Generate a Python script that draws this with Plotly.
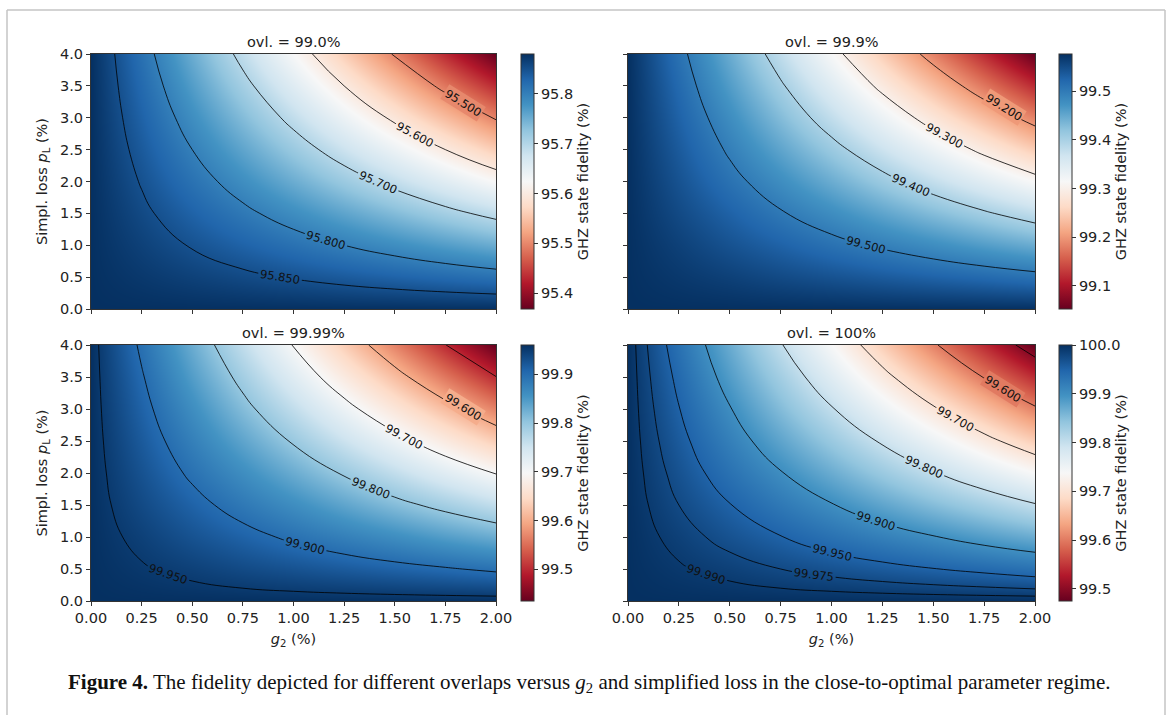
import plotly.graph_objects as go

W, H = 1167, 715

# ---- data ----
g2 = [0.0, 0.25, 0.5, 0.75, 1.0, 1.25, 1.5, 1.75, 2.0]
pL = [0.0, 0.5, 1.0, 1.5, 2.0, 2.5, 3.0, 3.5, 4.0]

# rows: pL, columns: g2 ; GHZ state fidelity (%)
fid_ovl_990 = [
    [95.880, 95.880, 95.880, 95.880, 95.880, 95.880, 95.880, 95.880, 95.880],
    [95.880, 95.872, 95.864, 95.856, 95.848, 95.840, 95.832, 95.824, 95.816],
    [95.880, 95.864, 95.848, 95.832, 95.816, 95.800, 95.784, 95.768, 95.752],
    [95.880, 95.856, 95.832, 95.808, 95.784, 95.760, 95.736, 95.712, 95.688],
    [95.880, 95.848, 95.816, 95.784, 95.752, 95.720, 95.688, 95.656, 95.624],
    [95.880, 95.840, 95.800, 95.760, 95.720, 95.680, 95.640, 95.600, 95.560],
    [95.880, 95.832, 95.784, 95.736, 95.688, 95.640, 95.592, 95.544, 95.496],
    [95.880, 95.824, 95.768, 95.712, 95.656, 95.600, 95.544, 95.488, 95.432],
    [95.880, 95.816, 95.752, 95.688, 95.624, 95.560, 95.496, 95.432, 95.368],
]
fid_ovl_999 = [
    [99.577, 99.577, 99.577, 99.577, 99.577, 99.577, 99.577, 99.577, 99.577],
    [99.577, 99.569, 99.561, 99.552, 99.544, 99.536, 99.528, 99.520, 99.511],
    [99.577, 99.561, 99.544, 99.528, 99.511, 99.495, 99.479, 99.462, 99.446],
    [99.577, 99.552, 99.528, 99.503, 99.479, 99.454, 99.429, 99.405, 99.380],
    [99.577, 99.544, 99.511, 99.479, 99.446, 99.413, 99.380, 99.347, 99.315],
    [99.577, 99.536, 99.495, 99.454, 99.413, 99.372, 99.331, 99.290, 99.249],
    [99.577, 99.528, 99.479, 99.429, 99.380, 99.331, 99.282, 99.233, 99.183],
    [99.577, 99.520, 99.462, 99.405, 99.347, 99.290, 99.233, 99.175, 99.118],
    [99.577, 99.511, 99.446, 99.380, 99.315, 99.249, 99.183, 99.118, 99.052],
]
fid_ovl_9999 = [
    [99.960, 99.960, 99.960, 99.960, 99.960, 99.960, 99.960, 99.960, 99.960],
    [99.960, 99.952, 99.944, 99.935, 99.927, 99.919, 99.911, 99.903, 99.894],
    [99.960, 99.944, 99.927, 99.911, 99.894, 99.878, 99.862, 99.845, 99.829],
    [99.960, 99.935, 99.911, 99.886, 99.862, 99.837, 99.812, 99.788, 99.763],
    [99.960, 99.927, 99.894, 99.862, 99.829, 99.796, 99.763, 99.730, 99.698],
    [99.960, 99.919, 99.878, 99.837, 99.796, 99.755, 99.714, 99.673, 99.632],
    [99.960, 99.911, 99.862, 99.812, 99.763, 99.714, 99.665, 99.616, 99.566],
    [99.960, 99.903, 99.845, 99.788, 99.730, 99.673, 99.616, 99.558, 99.501],
    [99.960, 99.894, 99.829, 99.763, 99.698, 99.632, 99.566, 99.501, 99.435],
]
fid_ovl_100 = [
    [100.000, 100.000, 100.000, 100.000, 100.000, 100.000, 100.000, 100.000, 100.000],
    [100.000, 99.992, 99.984, 99.975, 99.967, 99.959, 99.951, 99.943, 99.934],
    [100.000, 99.984, 99.967, 99.951, 99.934, 99.918, 99.902, 99.885, 99.869],
    [100.000, 99.975, 99.951, 99.926, 99.902, 99.877, 99.852, 99.828, 99.803],
    [100.000, 99.967, 99.934, 99.902, 99.869, 99.836, 99.803, 99.770, 99.738],
    [100.000, 99.959, 99.918, 99.877, 99.836, 99.795, 99.754, 99.713, 99.672],
    [100.000, 99.951, 99.902, 99.852, 99.803, 99.754, 99.705, 99.656, 99.606],
    [100.000, 99.943, 99.885, 99.828, 99.770, 99.713, 99.656, 99.598, 99.541],
    [100.000, 99.934, 99.869, 99.803, 99.738, 99.672, 99.606, 99.541, 99.475],
]

panel_titles = ["ovl. = 99.0%", "ovl. = 99.9%", "ovl. = 99.99%", "ovl. = 100%"]
contour_levels = [
    [95.5, 95.6, 95.7, 95.8, 95.85],
    [99.2, 99.3, 99.4, 99.5],
    [99.5, 99.6, 99.7, 99.8, 99.9, 99.95],
    [99.5, 99.6, 99.7, 99.8, 99.9, 99.95, 99.975, 99.99],
]
# contour levels that are too short for Plotly's automatic label placement
manual_label_levels = [[95.5], [99.2], [99.6], [99.6]]
cbar_ticks = [
    [95.4, 95.5, 95.6, 95.7, 95.8],
    [99.1, 99.2, 99.3, 99.4, 99.5],
    [99.5, 99.6, 99.7, 99.8, 99.9],
    [99.5, 99.6, 99.7, 99.8, 99.9, 100.0],
]
x_ticks = [0.0, 0.25, 0.5, 0.75, 1.0, 1.25, 1.5, 1.75, 2.0]
y_ticks = [0.0, 0.5, 1.0, 1.5, 2.0, 2.5, 3.0, 3.5, 4.0]
cbar_title = "GHZ state fidelity (%)"
caption = ("<b>Figure 4.</b> The fidelity depicted for different overlaps versus "
           "<i>g</i><sub>2</sub> and simplified loss in the close-to-optimal parameter regime.")

fields = [fid_ovl_990, fid_ovl_999, fid_ovl_9999, fid_ovl_100]

# ---- styling / placement ----
# label placement for the manual labels: (g2, pL, angle, background)
manual_label_place = [
    [(1.838, 3.23, 32, "rgb(231,136,108)")],
    [(1.846, 3.17, 32, "rgb(239,153,120)")],
    [(1.838, 3.03, 32, "rgb(245,173,140)")],
    [(1.844, 3.32, 32, "rgb(225,122,97)")],
]

RdBu = [
    [0.0, "rgb(103,0,31)"], [0.1, "rgb(178,24,43)"], [0.2, "rgb(214,96,77)"],
    [0.3, "rgb(244,165,130)"], [0.4, "rgb(253,219,199)"], [0.5, "rgb(247,247,247)"],
    [0.6, "rgb(209,229,240)"], [0.7, "rgb(146,197,222)"], [0.8, "rgb(67,147,195)"],
    [0.9, "rgb(33,102,172)"], [1.0, "rgb(5,48,97)"],
]

FONT = "DejaVu Sans"
AX = "#333333"
FS = 14.5
LFS = 11.5

# pixel boxes of the four axes (left, right, top, bottom) and colorbar left edge
boxes = [
    (91, 496, 54, 309, 521),
    (628, 1035, 54, 309, 1059),
    (91, 496, 345, 601, 521),
    (628, 1035, 345, 601, 1059),
]

fig = go.Figure()
layout = dict(
    width=W, height=H, margin=dict(l=0, r=0, t=0, b=0, pad=0, autoexpand=False),
    paper_bgcolor="white", plot_bgcolor="white",
    font=dict(family=FONT, size=FS, color="#222222"),
    showlegend=False,
)
annotations = []

for i, (x0, x1, y0, y1, cbx) in enumerate(boxes):
    n = "" if i == 0 else str(i + 1)
    xa, ya = "x" + n, "y" + n
    dom_x = [x0 / W, x1 / W]
    dom_y = [1 - y1 / H, 1 - y0 / H]
    bottom = i >= 2
    left = i % 2 == 0
    fig.add_trace(go.Heatmap(
        x=g2, y=pL, z=fields[i], zsmooth="best", colorscale=RdBu,
        xaxis=xa, yaxis=ya, hoverinfo="skip",
        colorbar=dict(
            x=cbx / W, xanchor="left", y=(dom_y[0] + dom_y[1]) / 2, yanchor="middle",
            len=(y1 - y0) / H, lenmode="fraction", thickness=13, thicknessmode="pixels",
            xpad=0, ypad=0, outlinewidth=1, outlinecolor=AX,
            ticks="outside", ticklen=4, tickcolor=AX, tickwidth=1,
            tickvals=cbar_ticks[i], ticktext=["%.1f" % v for v in cbar_ticks[i]],
            tickfont=dict(size=FS, family=FONT, color="#222222"),
            title=dict(text=cbar_title, side="right", font=dict(size=FS, family=FONT)),
        ),
    ))
    for lv in contour_levels[i]:
        fig.add_trace(go.Contour(
            x=g2, y=pL, z=fields[i], xaxis=xa, yaxis=ya, showscale=False,
            autocontour=False,
            contours=dict(start=lv, end=lv, size=1, coloring="none",
                          showlabels=lv not in manual_label_levels[i],
                          labelformat=".3f",
                          labelfont=dict(size=LFS, family=FONT, color="#111111")),
            line=dict(color="black", width=0.8, smoothing=1.3),
            hoverinfo="skip",
        ))
    for lv, (gx, py, ang, bg) in zip(manual_label_levels[i], manual_label_place[i]):
        annotations.append(dict(
            text="%.3f" % lv, x=gx, y=py, xref=xa, yref=ya, showarrow=False,
            textangle=ang, bgcolor=bg, borderpad=1,
            font=dict(size=LFS, family=FONT, color="#111111"),
        ))
    layout["xaxis" + n] = dict(
        domain=dom_x, range=[0, 2], anchor=ya, showgrid=False, zeroline=False,
        showline=True, linecolor=AX, linewidth=1, mirror=True, automargin=False,
        ticks="outside", ticklen=4, tickcolor=AX, tickvals=x_ticks,
        ticktext=["%.2f" % v for v in x_ticks], showticklabels=bottom,
        tickfont=dict(size=FS), title=dict(text="<i>g</i><sub>2</sub> (%)" if bottom else "",
                                           font=dict(size=FS), standoff=8),
    )
    layout["yaxis" + n] = dict(
        domain=dom_y, range=[0, 4], anchor=xa, showgrid=False, zeroline=False,
        showline=True, linecolor=AX, linewidth=1, mirror=True, automargin=False,
        ticks="outside", ticklen=4, tickcolor=AX, tickvals=y_ticks,
        ticktext=["%.1f" % v for v in y_ticks], showticklabels=left,
        tickfont=dict(size=FS),
        title=dict(text="Simpl. loss <i>p</i><sub>L</sub> (%)" if left else "",
                   font=dict(size=FS), standoff=8),
    )
    annotations.append(dict(
        text=panel_titles[i], x=(dom_x[0] + dom_x[1]) / 2, y=dom_y[1], xref="paper", yref="paper",
        xanchor="center", yanchor="bottom", yshift=2, showarrow=False,
        font=dict(size=FS, family=FONT, color="#222222"),
    ))

annotations.append(dict(
    text=caption, x=589 / W, y=1 - 698 / H, xref="paper", yref="paper",
    xanchor="center", yanchor="bottom", showarrow=False,
    font=dict(size=21, family="Liberation Serif", color="#111111"),
))
layout["annotations"] = annotations
layout["shapes"] = [
    dict(type="line", xref="paper", yref="paper", x0=7 / W, x1=1165 / W, y0=1 - 10 / H, y1=1 - 10 / H,
         line=dict(color="#c4c4c4", width=1.5)),
    dict(type="line", xref="paper", yref="paper", x0=7 / W, x1=7 / W, y0=0, y1=1 - 10 / H,
         line=dict(color="#c4c4c4", width=1.5)),
    dict(type="line", xref="paper", yref="paper", x0=1165 / W, x1=1165 / W, y0=0, y1=1 - 10 / H,
         line=dict(color="#c4c4c4", width=1.5)),
]
fig.update_layout(**layout)
fig.write_html("out.html")
